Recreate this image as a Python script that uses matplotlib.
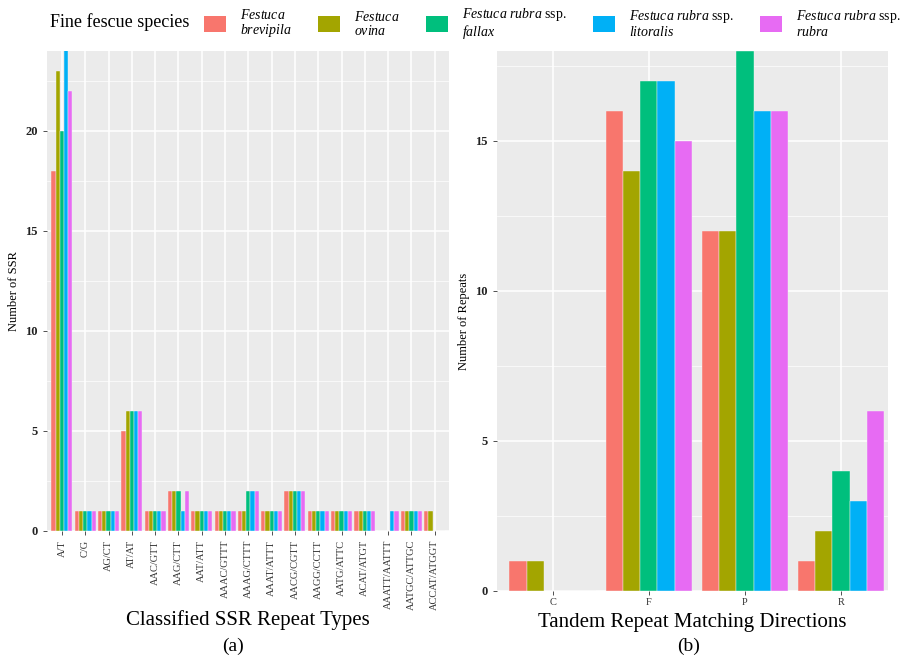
import numpy as np
import matplotlib
matplotlib.use('Agg')
import matplotlib.pyplot as plt
from matplotlib.patches import Patch

plt.rcParams['font.family'] = ['Liberation Serif', 'DejaVu Serif']
plt.rcParams['mathtext.fontset'] = 'custom'
plt.rcParams['mathtext.rm'] = 'Liberation Serif'
plt.rcParams['mathtext.it'] = 'Liberation Serif:italic'

species = [r'$\mathit{Festuca}$' + '\n' + r'$\mathit{brevipila}$',
           r'$\mathit{Festuca}$' + '\n' + r'$\mathit{ovina}$',
           r'$\mathit{Festuca\ rubra}$ ssp.' + '\n' + r'$\mathit{fallax}$',
           r'$\mathit{Festuca\ rubra}$ ssp.' + '\n' + r'$\mathit{litoralis}$',
           r'$\mathit{Festuca\ rubra}$ ssp.' + '\n' + r'$\mathit{rubra}$']
colors = ['#F8766D', '#A3A500', '#00BF7D', '#00B0F6', '#E76BF3']

# (a) SSR repeat types
ssr_types = ['A/T', 'C/G', 'AG/CT', 'AT/AT', 'AAC/GTT', 'AAG/CTT', 'AAT/ATT',
             'AAAC/GTTT', 'AAAG/CTTT', 'AAAT/ATTT', 'AACG/CGTT', 'AAGG/CCTT',
             'AATG/ATTC', 'ACAT/ATGT', 'AAATT/AATTT', 'AATGC/ATTGC', 'ACCAT/ATGGT']
ssr_brevipila = [18, 1, 1, 5, 1, 2, 1, 1, 1, 1, 2, 1, 1, 1, 0, 1, 1]
ssr_ovina     = [23, 1, 1, 6, 1, 2, 1, 1, 1, 1, 2, 1, 1, 1, 0, 1, 1]
ssr_fallax    = [20, 1, 1, 6, 1, 2, 1, 1, 2, 1, 2, 1, 1, 1, 0, 1, 0]
ssr_litoralis = [25, 1, 1, 6, 1, 1, 1, 1, 2, 1, 2, 1, 1, 1, 1, 1, 0]
ssr_rubra     = [22, 1, 1, 6, 1, 2, 1, 1, 2, 1, 2, 1, 1, 1, 1, 1, 0]

# (b) tandem repeat directions
directions = ['C', 'F', 'P', 'R']
tr_brevipila = [1, 16, 12, 1]
tr_ovina     = [1, 14, 12, 2]
tr_fallax    = [0, 17, 18, 4]
tr_litoralis = [0, 17, 16, 3]
tr_rubra     = [0, 15, 16, 6]

ssr = [ssr_brevipila, ssr_ovina, ssr_fallax, ssr_litoralis, ssr_rubra]
tr = [tr_brevipila, tr_ovina, tr_fallax, tr_litoralis, tr_rubra]

fig = plt.figure(figsize=(9.01, 6.57), dpi=100)
ax1 = fig.add_axes([0.0522, 0.1918, 0.4458, 0.7306])
ax2 = fig.add_axes([0.5516, 0.1005, 0.4340, 0.8219])


def style(ax, ymax, major, minor):
    ax.set_facecolor('#EBEBEB')
    for s in ax.spines.values():
        s.set_visible(False)
    ax.set_ylim(0, ymax)
    ax.set_yticks(major)
    ax.set_yticks(minor, minor=True)
    ax.grid(which='major', color='white', lw=1.1)
    ax.grid(which='minor', axis='y', color='white', lw=0.5)
    ax.set_axisbelow(True)
    ax.tick_params(which='minor', length=0)
    ax.tick_params(which='major', length=3, color='#333333', width=0.6)
    for lab in ax.get_yticklabels():
        lab.set_fontweight('bold')
        lab.set_color('#222222')
        lab.set_fontsize(9)


def bars(ax, data, n):
    w = 0.9 / 5
    x = np.arange(n)
    for i, vals in enumerate(data):
        ax.bar(x - 0.45 + w * (i + 0.5), vals, width=w, color=colors[i],
               edgecolor='#f4f4f4', linewidth=0.3, zorder=2)


bars(ax1, ssr, len(ssr_types))
style(ax1, 24, [0, 5, 10, 15, 20], [2.5, 7.5, 12.5, 17.5, 22.5])
ax1.set_xlim(-0.64, len(ssr_types) - 0.4)
ax1.set_xticks(np.arange(len(ssr_types)))
ax1.set_xticklabels(ssr_types, rotation=90, fontsize=7.5, color='#333333')
ax1.set_ylabel('Number of SSR', fontsize=9)
ax1.set_xlabel('Classified SSR Repeat Types', fontsize=15)
ax1.xaxis.set_label_coords(0.5, -0.165)

bars(ax2, tr, len(directions))
style(ax2, 18, [0, 5, 10, 15], [2.5, 7.5, 12.5, 17.5])
ax2.set_xlim(-0.58, len(directions) - 0.51)
ax2.set_xticks(np.arange(len(directions)))
ax2.set_xticklabels(directions, fontsize=7.5, color='#333333')
ax2.tick_params(axis='x', pad=2)
ax2.set_ylabel('Number of Repeats', fontsize=9)
ax2.set_xlabel('Tandem Repeat Matching Directions', fontsize=15)
ax2.xaxis.set_label_coords(0.5, -0.04)

fig.text(0.259, 0.003, '(a)', fontsize=14, ha='center', va='bottom')
fig.text(0.764, 0.003, '(b)', fontsize=14, ha='center', va='bottom')

fig.text(0.0555, 0.966, 'Fine fescue species', fontsize=13, ha='left', va='center')
handles = [Patch(facecolor=c) for c in colors]
leg = fig.legend(handles, species, loc='center left', bbox_to_anchor=(0.212, 0.964),
                 ncol=5, frameon=False, fontsize=10, handlelength=1.6,
                 handleheight=1.4, columnspacing=1.9, handletextpad=1.0)
for t in leg.get_texts():
    t.set_linespacing(1.0)

fig.savefig('out.png', dpi=100)
